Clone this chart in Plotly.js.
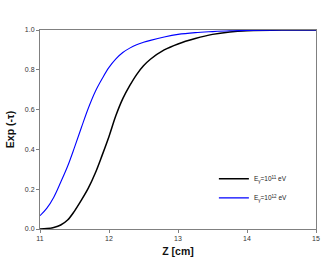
<!DOCTYPE html>
<html>
<head>
<meta charset="utf-8">
<script src="https://cdn.plot.ly/plotly-3.0.1.min.js"></script>
<style>html,body{margin:0;padding:0;background:#fff;}#chart{width:332px;height:265px;}</style>
</head>
<body>
<div id="chart"></div>
<script>
const zValues = [11, 11.1, 11.2, 11.3, 11.4, 11.5, 11.6, 11.7, 11.8, 11.9, 12.0, 12.1, 12.2, 12.3, 12.4, 12.5, 12.6, 12.8, 13.0, 13.25, 13.5, 13.75, 14, 14.5, 15];
const expTau11 = [0.0, 0.002, 0.008, 0.02, 0.045, 0.09, 0.145, 0.205, 0.28, 0.37, 0.465, 0.57, 0.655, 0.72, 0.776, 0.82, 0.853, 0.90, 0.93, 0.957, 0.978, 0.99, 0.996, 1.0, 1.0];
const expTau12 = [0.067, 0.105, 0.16, 0.235, 0.315, 0.41, 0.51, 0.607, 0.69, 0.755, 0.812, 0.855, 0.887, 0.909, 0.926, 0.938, 0.948, 0.965, 0.978, 0.987, 0.992, 0.996, 0.998, 1.0, 1.0];
const seriesNames = ["E<sub>γ</sub>=10<sup>11</sup> eV", "E<sub>γ</sub>=10<sup>12</sup> eV"];
const xTickVals = [11, 12, 13, 14, 15];
const xTickText = ["11", "12", "13", "14", "15"];
const yTickVals = [0, 0.2, 0.4, 0.6, 0.8, 1.0];
const yTickText = ["0.0", "0.2", "0.4", "0.6", "0.8", "1.0"];

const traces = [
  {x: zValues, y: expTau11, name: seriesNames[0], mode: 'lines',
   line: {color: '#000000', width: 1.5, shape: 'spline', smoothing: 1.0}},
  {x: zValues, y: expTau12, name: seriesNames[1], mode: 'lines',
   line: {color: '#0000ff', width: 1.1, shape: 'spline', smoothing: 1.0}}
];

const FONT = 'Liberation Sans, Arial, sans-serif';
const axisCommon = {
  showgrid: false, zeroline: false, showline: true, linecolor: '#808080', linewidth: 1,
  mirror: true, ticks: 'outside', ticklen: 3, tickcolor: '#808080', tickwidth: 1,
  tickfont: {family: FONT, size: 7, color: '#333'}
};

const layout = {
  width: 332, height: 265,
  margin: {l: 40, r: 16, t: 30, b: 36},
  paper_bgcolor: '#fff', plot_bgcolor: '#fff',
  showlegend: true,
  legend: {x: 0.63, y: 0.325, xanchor: 'left', yanchor: 'top', bgcolor: 'rgba(0,0,0,0)',
           font: {family: FONT, size: 6.5, color: '#222'},
           itemwidth: 30, tracegroupgap: 0},
  xaxis: Object.assign({}, axisCommon, {range: [11, 15], tickvals: xTickVals, ticktext: xTickText,
    title: {text: '<b>Z [cm]</b>', standoff: 6, font: {family: FONT, size: 10.5, color: '#111'}}}),
  yaxis: Object.assign({}, axisCommon, {range: [0, 1.0], tickvals: yTickVals, ticktext: yTickText,
    title: {text: '<b>Exp (-τ)</b>', standoff: 8, font: {family: FONT, size: 10.5, color: '#111'}}})
};

Plotly.newPlot('chart', traces, layout, {displayModeBar: false, staticPlot: true});
</script>
</body>
</html>
